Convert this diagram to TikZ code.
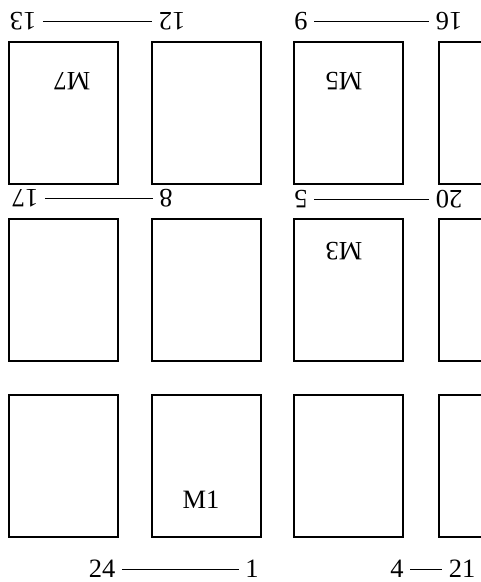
\documentclass[tikz,border=0pt]{standalone}
\usepackage{fontspec}
\setmainfont{Liberation Serif}
\usetikzlibrary{positioning}

\begin{document}
\begin{tikzpicture}[x=1pt,y=-1pt,
    every node/.style={font=\fontsize{26.5}{30}\selectfont},
    module/.style={draw,line width=1.1pt,minimum width=109pt,
                   minimum height=142pt,inner sep=0pt},
    pin/.style={inner sep=6.5pt},
    flip/.style={rotate=180}]
  \useasboundingbox (0,0) rectangle (481,582);
  \clip (0,0) rectangle (481,582);

  %% Module outlines (3 rows x 4 columns, last column cut off)
  \foreach \r/\y in {1/113,2/290,3/466}{
    \foreach \c/\x in {1/63.5,2/206.5,3/348.5,4/493.5}{
      \node[module] (b\r\c) at (\x,\y) {};
    }
  }

  %% Module names
  \node[flip] (m7) at (72,81) {M7};
  \node[flip] (m5) at (344,81) {M5};
  \node[flip] (m3) at (344,251) {M3};
  \node (m1) at (201,500) {M1};

  %% Pin numbers, top row
  \node[pin,flip] (p13) at (23,21) {13};
  \node[pin,flip] (p12) at (172,21) {12};
  \node[pin,flip] (p9) at (301,21) {9};
  \node[pin,flip] (p16) at (449,21) {16};
  \draw[line width=0.9pt] (p13) -- (p12);
  \draw[line width=0.9pt] (p9) -- (p16);

  %% Pin numbers, middle row
  \node[pin,flip] (p17) at (25,198) {17};
  \node[pin,flip] (p8) at (166,198) {8};
  \node[pin,flip] (p5) at (301,199) {5};
  \node[pin,flip] (p20) at (449,199) {20};
  \draw[line width=0.9pt] (p17) -- (p8);
  \draw[line width=0.9pt] (p5) -- (p20);

  %% Pin numbers, bottom row
  \node[pin] (p24) at (102,569) {24};
  \node[pin] (p1) at (252,569) {1};
  \node[pin] (p4) at (397,569) {4};
  \node[pin] (p21) at (462,569) {21};
  \draw[line width=0.9pt] (p24) -- (p1);
  \draw[line width=0.9pt] (p4) -- (p21);
\end{tikzpicture}
\end{document}
